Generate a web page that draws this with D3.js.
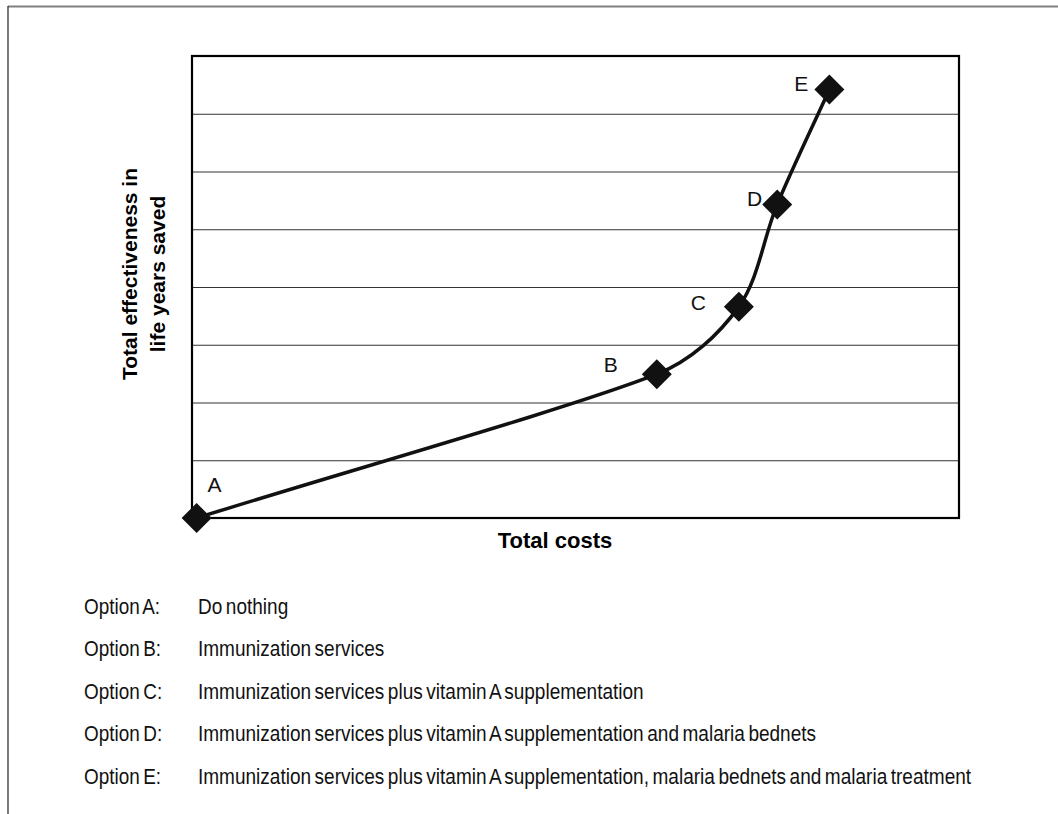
<!DOCTYPE html>
<html>
<head>
<meta charset="utf-8">
<script src="https://cdn.jsdelivr.net/npm/d3@7"></script>
<style>
  html, body { margin: 0; padding: 0; background: #fff; }
  svg { display: block; }
</style>
</head>
<body>
<div id="container"></div>
<script>
// data (no axis ticks, so arbitrary units)
var options = ["A", "B", "C", "D", "E"];
var costs = [0.6, 60.6, 71.3, 76.3, 83.1];
var effectiveness = [0, 2.49, 3.66, 5.43, 7.42];
var gridSteps = [0, 1, 2, 3, 4, 5, 6, 7, 8];
var optionNames = ["Option A:", "Option B:", "Option C:", "Option D:", "Option E:"];
var optionTexts = [
  "Do nothing",
  "Immunization services",
  "Immunization services plus vitamin A supplementation",
  "Immunization services plus vitamin A supplementation and malaria bednets",
  "Immunization services plus vitamin A supplementation, malaria bednets and malaria treatment"
];

var width = 1058, height = 814;
var plot = {left: 192, right: 959, top: 56, bottom: 518};

var svg = d3.select("#container").append("svg")
    .attr("width", width)
    .attr("height", height);

var x = d3.scaleLinear().domain([0, 100]).range([plot.left, plot.right]);
var y = d3.scaleLinear().domain([0, 8]).range([plot.bottom, plot.top]);

// outer frame (top + left only)
svg.append("line")
    .attr("x1", 8).attr("x2", width).attr("y1", 6.5).attr("y2", 6.5)
    .style("stroke", "#808080").style("stroke-width", 2);
svg.append("line")
    .attr("x1", 8).attr("x2", 8).attr("y1", 6).attr("y2", height)
    .style("stroke", "#333").style("stroke-width", 1.3);

// gridlines
svg.append("g").selectAll("line")
    .data(gridSteps.slice(1, -1))
    .join("line")
    .attr("x1", plot.left).attr("x2", plot.right)
    .attr("y1", d => y(d) + 0.5).attr("y2", d => y(d) + 0.5)
    .style("stroke", "#333").style("stroke-width", 1.1);

// plot border
svg.append("rect")
    .attr("x", plot.left).attr("y", plot.top)
    .attr("width", plot.right - plot.left)
    .attr("height", plot.bottom - plot.top)
    .style("fill", "none").style("stroke", "#000").style("stroke-width", 2.2);

var pts = options.map((d, i) => [x(costs[i]), y(effectiveness[i])]);

// spreadsheet-style smoothing: bezier handles = (next - prev)/6,
// clamped to a third of the segment so short segments don't overshoot
function smoothPath(p) {
    var path = d3.path();
    var n = p.length;
    function handle(i, j) {
        // handle at point i pointing toward neighbour j
        var prev = p[Math.max(i - 1, 0)], next = p[Math.min(i + 1, n - 1)];
        var tx = (next[0] - prev[0]) / 6, ty = (next[1] - prev[1]) / 6;
        if (i === 0 || i === n - 1) { tx *= 2; ty *= 2; }
        var sign = j > i ? 1 : -1;
        var seg = Math.hypot(p[j][0] - p[i][0], p[j][1] - p[i][1]) / 3;
        var len = Math.hypot(tx, ty);
        var k = len > seg ? seg / len : 1;
        return [p[i][0] + sign * tx * k, p[i][1] + sign * ty * k];
    }
    path.moveTo(p[0][0], p[0][1]);
    for (var i = 0; i < n - 1; i++) {
        var c1 = handle(i, i + 1), c2 = handle(i + 1, i);
        path.bezierCurveTo(c1[0], c1[1], c2[0], c2[1], p[i + 1][0], p[i + 1][1]);
    }
    return path.toString();
}

svg.append("path")
    .attr("d", smoothPath(pts))
    .style("fill", "none")
    .style("stroke", "#111")
    .style("stroke-width", 3.5)
    .style("stroke-linejoin", "round");

var diamond = d3.symbol().type(d3.symbolSquare).size(450);
svg.append("g").selectAll("path")
    .data(pts)
    .join("path")
    .attr("d", diamond)
    .attr("transform", d => "translate(" + d[0] + "," + d[1] + ") rotate(45)")
    .style("fill", "#111");

// point labels, placed by hand like the original
var labelOffsets = [[11, -26, "start"], [-39, -2, "end"], [-33, 3, "end"], [-15, 1.5, "end"], [-21, 2, "end"]];
svg.append("g").selectAll("text")
    .data(options)
    .join("text")
    .attr("x", (d, i) => pts[i][0] + labelOffsets[i][0])
    .attr("y", (d, i) => pts[i][1] + labelOffsets[i][1])
    .attr("text-anchor", (d, i) => labelOffsets[i][2])
    .style("font-family", "'Liberation Sans', Arial, sans-serif")
    .style("font-size", "21px")
    .style("fill", "#111")
    .text(d => d);

// axis titles
svg.append("text")
    .attr("x", 555).attr("y", 548)
    .attr("text-anchor", "middle")
    .style("font-family", "'Liberation Sans', Arial, sans-serif")
    .style("font-size", "22px")
    .style("font-weight", "bold")
    .text("Total costs");

var yt = svg.append("text")
    .attr("transform", "translate(137,274) rotate(-90)")
    .attr("text-anchor", "middle")
    .style("font-family", "'Liberation Sans', Arial, sans-serif")
    .style("font-size", "21px")
    .style("font-weight", "bold");
yt.append("tspan").attr("x", 0).attr("y", 0).text("Total effectiveness in");
yt.append("tspan").attr("x", 0).attr("y", 28).text("life years saved");

// option legend (condensed text)
var legend = svg.append("g")
    .style("font-family", "'Liberation Sans', Arial, sans-serif")
    .style("font-size", "22px")
    .style("fill", "#111")
    .style("word-spacing", "-2px");

optionNames.forEach(function(name, i) {
    var yy = 613.5 + i * 42.6;
    legend.append("text")
        .attr("transform", "translate(84," + yy + ") scale(0.86,1)")
        .text(name);
    legend.append("text")
        .attr("transform", "translate(198," + yy + ") scale(0.865,1)")
        .text(optionTexts[i]);
});
</script>
</body>
</html>
